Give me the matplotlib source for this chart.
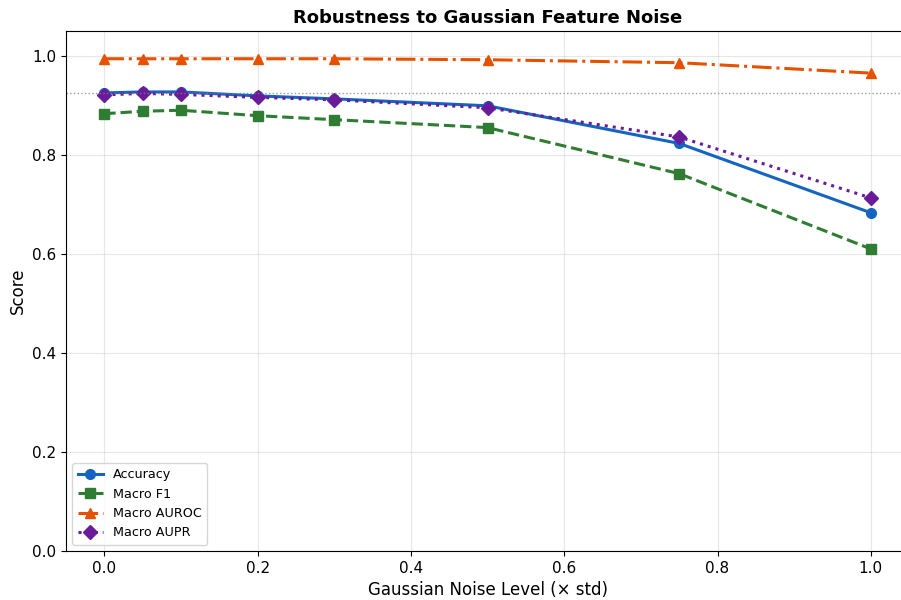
import numpy as np
from matplotlib import pyplot as plt

noise_levels = [0.0, 0.05, 0.1, 0.2, 0.3, 0.5, 0.75, 1.0]
accuracy = [0.925, 0.927, 0.927, 0.919, 0.913, 0.899, 0.823, 0.683]
macro_f1 = [0.883, 0.888, 0.890, 0.879, 0.871, 0.855, 0.762, 0.610]
macro_auroc = [0.994, 0.994, 0.994, 0.994, 0.994, 0.992, 0.986, 0.965]
macro_aupr = [0.921, 0.924, 0.922, 0.916, 0.911, 0.895, 0.836, 0.713]
baseline = 0.924


fig = plt.figure(figsize=(9.01, 6.0), dpi=100)
ax = fig.add_axes([0.0733, 0.0817, 0.9357, 0.8666])

ax.plot(noise_levels, accuracy, color="#1565C0", linestyle="-", marker="o",
        linewidth=2.2, markersize=7, label="Accuracy")
ax.plot(noise_levels, macro_f1, color="#2E7D32", linestyle="--", marker="s",
        linewidth=2.2, markersize=7, label="Macro F1")
ax.plot(noise_levels, macro_auroc, color="#E65100", linestyle="-.", marker="^",
        linewidth=2.2, markersize=7, label="Macro AUROC")
ax.plot(noise_levels, macro_aupr, color="#6A1B9A", linestyle=":", marker="D",
        linewidth=2.2, markersize=7, label="Macro AUPR")

ax.axhline(baseline, color="gray", linestyle=":", linewidth=1, alpha=0.8)

ax.set_xlim(-0.05, 1.05)
ax.set_ylim(0, 1.05)
ax.grid(True, alpha=0.3)
ax.tick_params(labelsize=11)
ax.set_xlabel("Gaussian Noise Level (× std)", fontsize=12)
ax.set_ylabel("Score", fontsize=12)
ax.set_title("Robustness to Gaussian Feature Noise", fontsize=13, fontweight="bold")
ax.legend(loc="lower left", fontsize=9.2)

fig.savefig("out.png", dpi=100)
